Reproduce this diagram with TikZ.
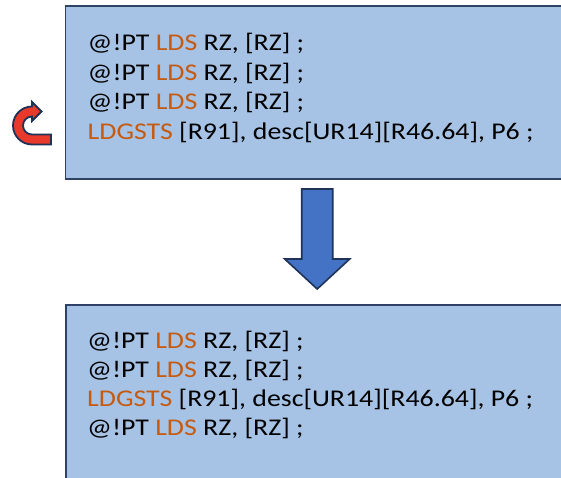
\documentclass[tikz,border=0pt]{standalone}
\usepackage{fontspec}
\setmainfont{Carlito}[FakeStretch=1.16]
\definecolor{boxfill}{HTML}{A6C3E5}
\definecolor{boxline}{HTML}{2F4266}
\definecolor{opcode}{HTML}{C55A11}
\definecolor{flowfill}{HTML}{4472C4}
\definecolor{flowline}{HTML}{1F3258}
\definecolor{loopfill}{HTML}{E8392B}
\newcommand{\opc}[1]{\textcolor{opcode}{#1}}
\begin{document}
\begin{tikzpicture}[x=1pt,y=-1pt,
  codebox/.style={draw=boxline,fill=boxfill,line width=1.8pt,rectangle,
    anchor=north west,inner sep=0pt,minimum width=560pt},
  codeline/.style={anchor=base west,inner sep=0pt,
    font=\fontsize{24}{29}\selectfont},
  blockarrow/.style={fill=flowfill,draw=flowline,line width=1.6pt,line join=miter},
  looparrow/.style={fill=loopfill,draw=flowline,line width=1.8pt,line join=miter}]
\useasboundingbox (0,0) rectangle (561,477);
\clip (0,0) rectangle (561,477);

% code block before the reordering
\node[codebox,minimum height=173pt] (before) at (64.5,5) {};
\node[codeline] (b1) at (87.5,50.5)  {@!PT \opc{LDS} RZ, [RZ] ;};
\node[codeline] (b2) at (87.5,80)    {@!PT \opc{LDS} RZ, [RZ] ;};
\node[codeline] (b3) at (87.5,109.5) {@!PT \opc{LDS} RZ, [RZ] ;};
\node[codeline] (b4) at (87.5,139)   {\opc{LDGSTS} [R91], desc[UR14][R46.64], P6 ;};

% code block after the reordering
\node[codebox,minimum height=220pt] (after) at (65,304) {};
\node[codeline] (a1) at (87,348)   {@!PT \opc{LDS} RZ, [RZ] ;};
\node[codeline] (a2) at (87,377)   {@!PT \opc{LDS} RZ, [RZ] ;};
\node[codeline] (a3) at (87,406)   {\opc{LDGSTS} [R91], desc[UR14][R46.64], P6 ;};
\node[codeline] (a4) at (87,435)   {@!PT \opc{LDS} RZ, [RZ] ;};

% block arrow from the first listing down to the second
\coordinate (flowtop) at (317.2,189);
\draw[blockarrow] (flowtop) ++(-15.5,0) -- ++(31,0) -- ++(0,70) -- ++(17,0)
  -- ++(-32.5,30) coordinate (flowtip) -- ++(-32.5,-30) -- ++(17,0) -- cycle;

% U-turn arrow next to the moved instruction
\draw[looparrow] (51,144.5) -- (32,144.5)
  .. controls (21.5,144.5) and (13,136) .. (13,125.5)
  .. controls (13,115) and (21.5,106.5) .. (32,106.5)
  -- (32,102) -- (41.5,111.5) -- (32,121) -- (32,116.5)
  .. controls (27,116.5) and (23,120.5) .. (23,125.5)
  .. controls (23,130.5) and (27,134.5) .. (32,134.5)
  -- (51,134.5) -- cycle;
\end{tikzpicture}
\end{document}
